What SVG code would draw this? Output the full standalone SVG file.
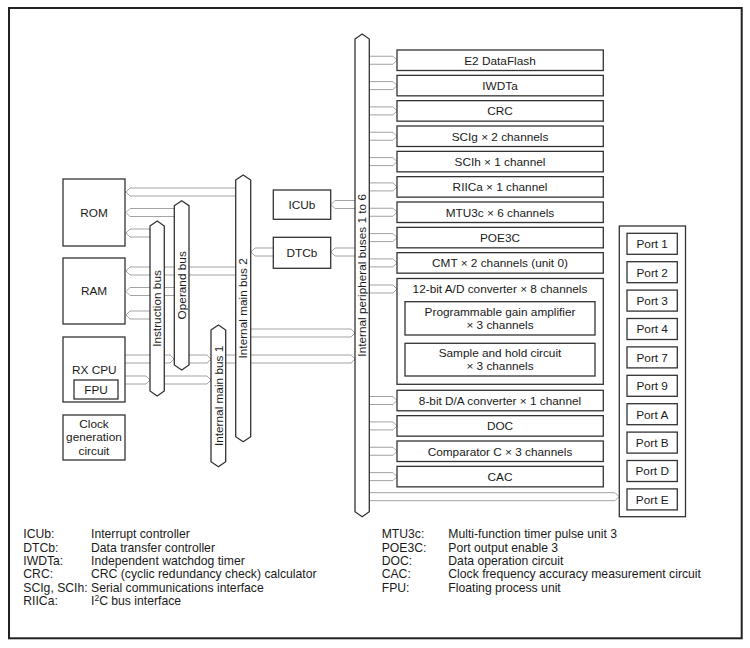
<svg xmlns="http://www.w3.org/2000/svg" width="750" height="648" viewBox="0 0 750 648">
<style>
.box{fill:#fff;stroke:#333;stroke-width:1.3}
.bus{fill:#fff;stroke:#333;stroke-width:1.3}
.arr{fill:none;stroke:#a3a3a3;stroke-width:1}
.t{font-family:"Liberation Sans",Arial,sans-serif;font-size:11.8px;fill:#1a1a1a;text-anchor:middle}
.l{text-anchor:start;font-size:12.2px}
</style>
<rect x="0" y="0" width="750" height="648" fill="#fff"/>
<rect x="9" y="8" width="732.7" height="630.3" fill="none" stroke="#222" stroke-width="2"/>

<g id="connectors">
<path class="arr" d="M236 188H130L126 192L130 196H236"/>
<path class="arr" d="M175 208.5H130L126 212.5L130 216.5H175"/>
<path class="arr" d="M151 229H130L126 233L130 237H151"/>
<path class="arr" d="M236 267H130L126 271L130 275H236"/>
<path class="arr" d="M175 287.5H130L126 291.5L130 295.5H175"/>
<path class="arr" d="M151 311H130L126 315L130 319H151"/>
<path class="arr" d="M125 355H170L174 359L170 363H125"/>
<path class="arr" d="M189 355H207L211 359L207 363H189"/>
<path class="arr" d="M226 355H351L355 359L351 363H226"/>
<path class="arr" d="M125 376H146L150 380L146 384H125"/>
<path class="arr" d="M164 376H207L211 380L207 384H164"/>
<path class="arr" d="M251 329H351L355 333L351 337H251"/>
<path class="arr" d="M273 248H255L251 252L255 256H273"/>
<path class="arr" d="M355 248H335L331 252L335 256H355"/>
<path class="arr" d="M355 200.5H335L331 204.5L335 208.5H355"/>
<path class="arr" d="M369 56.25H393L397 60.25L393 64.25H369"/>
<path class="arr" d="M369 81.6H393L397 85.6L393 89.6H369"/>
<path class="arr" d="M369 106.9H393L397 110.9L393 114.9H369"/>
<path class="arr" d="M369 132.25H393L397 136.25L393 140.25H369"/>
<path class="arr" d="M369 157.6H393L397 161.6L393 165.6H369"/>
<path class="arr" d="M369 182.9H393L397 186.9L393 190.9H369"/>
<path class="arr" d="M369 208.25H393L397 212.25L393 216.25H369"/>
<path class="arr" d="M369 233.6H393L397 237.6L393 241.6H369"/>
<path class="arr" d="M369 258.9H393L397 262.9L393 266.9H369"/>
<path class="arr" d="M369 285H393L397 289L393 293H369"/>
<path class="arr" d="M369 396.5H393L397 400.5L393 404.5H369"/>
<path class="arr" d="M369 421.9H393L397 425.9L393 429.9H369"/>
<path class="arr" d="M369 447.25H393L397 451.25L393 455.25H369"/>
<path class="arr" d="M369 472.6H393L397 476.6L393 480.6H369"/>
<path class="arr" d="M369 492.7H615L619 496.7L615 500.7H369"/>
</g>

<g id="instruction-bus">
<polygon class="bus" points="150,226 157.2,221 164.3,226 164.3,391 157.2,396 150,391"/>
<text class="t" x="157.2" y="312.7" transform="rotate(-90 157.2 308.5)">Instruction bus</text>
</g>
<g id="operand-bus">
<polygon class="bus" points="174.3,205.7 181.7,200.7 189,205.7 189,365 181.7,370 174.3,365"/>
<text class="t" x="181.7" y="289.5" transform="rotate(-90 181.7 285.3)">Operand bus</text>
</g>
<g id="internal-main-bus-1">
<polygon class="bus" points="211,330 218.4,325 225.7,330 225.7,461.7 218.4,466.7 211,461.7"/>
<text class="t" x="218.4" y="400.1" transform="rotate(-90 218.4 395.9)">Internal main bus 1</text>
</g>
<g id="internal-main-bus-2">
<polygon class="bus" points="235.7,180 243.2,175 250.7,180 250.7,436.7 243.2,441.7 235.7,436.7"/>
<text class="t" x="243.2" y="312.5" transform="rotate(-90 243.2 308.3)">Internal main bus 2</text>
</g>
<g id="internal-peripheral-buses">
<polygon class="bus" points="355,39 362.2,34 369.3,39 369.3,511.7 362.2,516.7 355,511.7"/>
<text class="t" x="362.2" y="279.5" transform="rotate(-90 362.2 275.3)">Internal peripheral buses 1 to 6</text>
</g>

<g id="rom"><rect class="box" x="63" y="179" width="62" height="67"/><text class="t" x="94" y="216.8">ROM</text></g>
<g id="ram"><rect class="box" x="63" y="258" width="62" height="66"/><text class="t" x="94" y="295.1">RAM</text></g>
<g id="rx-cpu"><rect class="box" x="63" y="337" width="62" height="65"/><text class="t" x="94.3" y="374.3">RX CPU</text></g>
<g id="fpu"><rect class="box" x="74" y="380" width="44" height="19"/><text class="t" x="96" y="393.6">FPU</text></g>
<g id="clock"><rect class="box" x="63" y="415" width="62" height="45"/>
<text class="t" x="94" y="427.6">Clock</text><text class="t" x="94" y="441.4">generation</text><text class="t" x="94" y="455">circuit</text></g>
<g id="icub"><rect class="box" x="273.3" y="190" width="57.4" height="29.3"/><text class="t" x="302" y="208.9">ICUb</text></g>
<g id="dtcb"><rect class="box" x="273.3" y="237.3" width="57.4" height="31"/><text class="t" x="302" y="257">DTCb</text></g>

<g id="e2-dataflash"><rect class="box" x="397" y="50" width="206.3" height="20.5"/><text class="t" x="500" y="64.5">E2 DataFlash</text></g>
<g id="iwdta"><rect class="box" x="397" y="75.35" width="206.3" height="20.5"/><text class="t" x="500" y="89.8">IWDTa</text></g>
<g id="crc"><rect class="box" x="397" y="100.65" width="206.3" height="20.5"/><text class="t" x="500" y="115.1">CRC</text></g>
<g id="scig"><rect class="box" x="397" y="126" width="206.3" height="20.5"/><text class="t" x="500" y="140.5">SCIg × 2 channels</text></g>
<g id="scih"><rect class="box" x="397" y="151.35" width="206.3" height="20.5"/><text class="t" x="500" y="165.8">SCIh × 1 channel</text></g>
<g id="riica"><rect class="box" x="397" y="176.65" width="206.3" height="20.5"/><text class="t" x="500" y="191.1">RIICa × 1 channel</text></g>
<g id="mtu3c"><rect class="box" x="397" y="202" width="206.3" height="20.5"/><text class="t" x="500" y="216.5">MTU3c × 6 channels</text></g>
<g id="poe3c"><rect class="box" x="397" y="227.35" width="206.3" height="20.5"/><text class="t" x="500" y="241.8">POE3C</text></g>
<g id="cmt"><rect class="box" x="397" y="252.65" width="206.3" height="20.5"/><text class="t" x="500" y="267.1">CMT × 2 channels (unit 0)</text></g>
<g id="adc"><rect class="box" x="397" y="278.5" width="206.3" height="105.8"/><text class="t" x="500" y="293.2">12-bit A/D converter × 8 channels</text></g>
<g id="pga"><rect class="box" x="405" y="301.7" width="190" height="33.3"/>
<text class="t" x="500" y="315.9">Programmable gain amplifier</text><text class="t" x="500" y="329.1">× 3 channels</text></g>
<g id="sample-hold"><rect class="box" x="405" y="343.3" width="190" height="32.7"/>
<text class="t" x="500" y="356.7">Sample and hold circuit</text><text class="t" x="500" y="370.1">× 3 channels</text></g>
<g id="dac"><rect class="box" x="397" y="390.3" width="206.3" height="20.5"/><text class="t" x="500" y="404.7">8-bit D/A converter × 1 channel</text></g>
<g id="doc"><rect class="box" x="397" y="415.65" width="206.3" height="20.5"/><text class="t" x="500" y="430.1">DOC</text></g>
<g id="comparator"><rect class="box" x="397" y="441" width="206.3" height="20.5"/><text class="t" x="500" y="455.5">Comparator C × 3 channels</text></g>
<g id="cac"><rect class="box" x="397" y="466.35" width="206.3" height="20.5"/><text class="t" x="500" y="480.8">CAC</text></g>

<g id="ports">
<rect class="box" x="619.3" y="226" width="66.2" height="290.7"/>
<g id="port-1"><rect class="box" x="627" y="233.3" width="50.3" height="21"/><text class="t" x="652.2" y="248.1">Port 1</text></g>
<g id="port-2"><rect class="box" x="627" y="261.7" width="50.3" height="21"/><text class="t" x="652.2" y="276.5">Port 2</text></g>
<g id="port-3"><rect class="box" x="627" y="290.1" width="50.3" height="21"/><text class="t" x="652.2" y="304.9">Port 3</text></g>
<g id="port-4"><rect class="box" x="627" y="318.5" width="50.3" height="21"/><text class="t" x="652.2" y="333.3">Port 4</text></g>
<g id="port-7"><rect class="box" x="627" y="346.9" width="50.3" height="21"/><text class="t" x="652.2" y="361.7">Port 7</text></g>
<g id="port-9"><rect class="box" x="627" y="375.3" width="50.3" height="21"/><text class="t" x="652.2" y="390.1">Port 9</text></g>
<g id="port-a"><rect class="box" x="627" y="403.7" width="50.3" height="21"/><text class="t" x="652.2" y="418.5">Port A</text></g>
<g id="port-b"><rect class="box" x="627" y="432.1" width="50.3" height="21"/><text class="t" x="652.2" y="446.9">Port B</text></g>
<g id="port-d"><rect class="box" x="627" y="460.5" width="50.3" height="21"/><text class="t" x="652.2" y="475.3">Port D</text></g>
<g id="port-e"><rect class="box" x="627" y="488.9" width="50.3" height="21"/><text class="t" x="652.2" y="503.7">Port E</text></g>
</g>

<g id="legend">
<text class="t l" x="23.3" y="538.4">ICUb:</text><text class="t l" x="91" y="538.4">Interrupt controller</text>
<text class="t l" x="23.3" y="551.7">DTCb:</text><text class="t l" x="91" y="551.7">Data transfer controller</text>
<text class="t l" x="23.3" y="565.1">IWDTa:</text><text class="t l" x="91" y="565.1">Independent watchdog timer</text>
<text class="t l" x="23.3" y="578.4">CRC:</text><text class="t l" x="91" y="578.4">CRC (cyclic redundancy check) calculator</text>
<text class="t l" x="23.3" y="591.7">SCIg, SCIh:</text><text class="t l" x="91" y="591.7">Serial communications interface</text>
<text class="t l" x="23.3" y="605.4">RIICa:</text><text class="t l" x="91" y="605.4">I<tspan font-size="8.5" dy="-4">2</tspan><tspan dy="4">C bus interface</tspan></text>
<text class="t l" x="381.7" y="538.4">MTU3c:</text><text class="t l" x="448.3" y="538.4">Multi-function timer pulse unit 3</text>
<text class="t l" x="381.7" y="551.7">POE3C:</text><text class="t l" x="448.3" y="551.7">Port output enable 3</text>
<text class="t l" x="381.7" y="565.1">DOC:</text><text class="t l" x="448.3" y="565.1">Data operation circuit</text>
<text class="t l" x="381.7" y="578.4">CAC:</text><text class="t l" x="448.3" y="578.4">Clock frequency accuracy measurement circuit</text>
<text class="t l" x="381.7" y="591.7">FPU:</text><text class="t l" x="448.3" y="591.7">Floating process unit</text>
</g>
</svg>
